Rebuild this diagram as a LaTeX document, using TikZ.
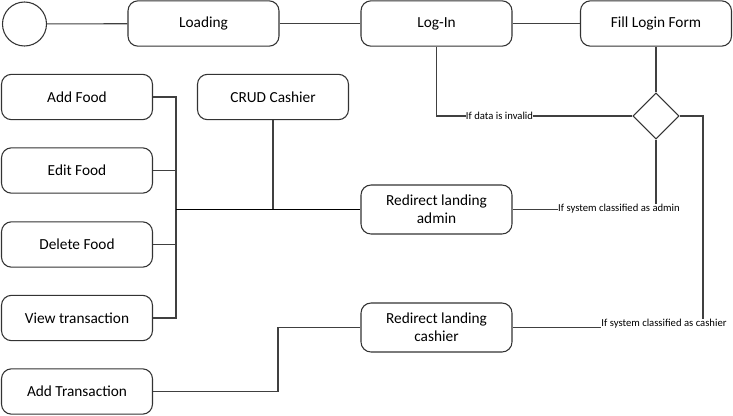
\documentclass[tikz,border=0pt]{standalone}
\usepackage{fontspec}
\setmainfont{Carlito}
\usetikzlibrary{shapes.geometric}
\begin{document}
\begin{tikzpicture}[x=0.75pt,y=-0.75pt,
  box/.style={draw=black!80,line width=0.8pt,rounded corners=7.5pt,fill=white,
    minimum width=113.25pt,minimum height=34pt,inner sep=0pt,align=center,
    font=\fontsize{11.5pt}{13.5pt}\selectfont},
  tallbox/.style={box,minimum height=36.75pt},
  conn/.style={draw=black!75,line width=0.8pt},
  lbl/.style={fill=white,inner sep=0.3pt,font=\fontsize{8pt}{9pt}\selectfont}]
\useasboundingbox (0,0) rectangle (733,415);
% nodes
\node[circle,draw=black!80,line width=0.8pt,minimum size=33pt,inner sep=0pt] (start) at (24.5,24) {};
\node[box] (loading) at (203.5,23.5) {Loading};
\node[box] (login) at (436.5,23.5) {Log-In};
\node[box] (fill) at (656,23.5) {Fill Login Form};
\node[diamond,draw=black!80,line width=0.8pt,minimum width=34.5pt,minimum height=34.5pt,inner sep=0pt] (dia) at (656,116) {};
\node[box] (addfood) at (77,97) {Add Food};
\node[box] (crud) at (273,97) {CRUD Cashier};
\node[box] (editfood) at (77,170.5) {Edit Food};
\node[box] (deletefood) at (77,244.5) {Delete Food};
\node[box] (viewtrans) at (77,318) {View transaction};
\node[box] (addtrans) at (77,391.5) {Add Transaction};
\node[tallbox] (admin) at (436.5,209.5) {Redirect landing\\admin};
\node[tallbox] (cashier) at (436.5,327.5) {Redirect landing\\cashier};
% helper coordinates
\coordinate (tr) at (176,209.5);
\coordinate (ac) at (278,391.5);
\coordinate (cr) at (703,116);
% connectors
\draw[conn] (start) -- (loading);
\draw[conn] (loading) -- (login);
\draw[conn] (login) -- (fill);
\draw[conn] (fill) -- (dia);
\draw[conn] (dia.west) -| (login.south);
\draw[conn] (dia.south) |- (admin.east);
\draw[conn] (dia.east) -- (cr) |- (cashier.east);
\draw[conn] (addfood.east) -| (tr);
\draw[conn] (editfood.east) -| (tr);
\draw[conn] (deletefood.east) -| (tr);
\draw[conn] (viewtrans.east) -| (tr);
\draw[conn] (crud.south) -- (crud.south |- tr);
\draw[draw=black,line width=1.3pt] (tr) -- (admin.west);
\draw[conn] (addtrans.east) -- (ac) |- (cashier.west);
% labels
\node[lbl] (linvalid) at (499.5,116) {If data is invalid};
\node[lbl] (ladmin) at (619,209) {If system classified as admin};
\node[lbl] (lcashier) at (664,324) {If system classified as cashier};
\end{tikzpicture}
\end{document}
